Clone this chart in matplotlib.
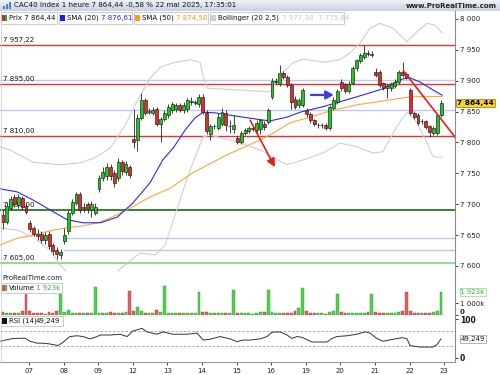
import numpy as np
import matplotlib
matplotlib.use("Agg")
import matplotlib.pyplot as plt
from matplotlib.patches import Rectangle
from matplotlib.lines import Line2D
import matplotlib.transforms as mtransforms

# ---- candle data (hourly, 06 -> 22 mai) ----
opens = [7683, 7671, 7694, 7712, 7698, 7710, 7697,
         7670, 7662, 7652, 7652, 7642, 7652, 7634, 7626, 7617,
         7640, 7656, 7686, 7702, 7716, 7694, 7700, 7690, 7686,
         7724, 7742, 7745, 7760, 7750, 7742, 7768, 7752, 7760,
         7805, 7804, 7840, 7868, 7850, 7848, 7855, 7830, 7838,
         7844, 7852, 7855, 7860, 7852, 7854, 7866, 7864, 7862,
         7874, 7848, 7814, 7826, 7823, 7830, 7848, 7826, 7822,
         7807, 7801, 7815, 7818, 7822, 7820, 7822, 7830, 7833,
         7874, 7898, 7895, 7912, 7906, 7893, 7870, 7860, 7861,
         7852, 7846, 7836, 7828, 7828, 7828, 7823, 7856, 7866,
         7898, 7894, 7884, 7896, 7920, 7932, 7938, 7945, 7942,
         7914, 7914, 7896, 7888, 7888, 7892, 7898, 7914, 7911,
         7885, 7848, 7845, 7834, 7834, 7826, 7815, 7815, 7845]
closes = [7671, 7697, 7708, 7700, 7712, 7695, 7688,
          7660, 7652, 7648, 7642, 7650, 7632, 7625, 7620, 7623,
          7650, 7686, 7704, 7716, 7690, 7696, 7692, 7700, 7696,
          7742, 7752, 7760, 7745, 7735, 7768, 7754, 7765, 7748,
          7800, 7840, 7868, 7848, 7851, 7853, 7830, 7838, 7848,
          7858, 7862, 7860, 7852, 7860, 7868, 7867, 7865, 7874,
          7850, 7818, 7826, 7827, 7841, 7849, 7828, 7827, 7828,
          7801, 7815, 7820, 7824, 7822, 7832, 7836, 7825, 7853,
          7900, 7899, 7913, 7906, 7893, 7866, 7858, 7868, 7885,
          7846, 7836, 7830, 7828, 7828, 7823, 7858, 7869, 7883,
          7888, 7884, 7895, 7920, 7933, 7942, 7945, 7944, 7944,
          7910, 7893, 7888, 7892, 7894, 7898, 7914, 7909, 7905,
          7848, 7842, 7832, 7834, 7825, 7817, 7823, 7845, 7864.44]
highs = [7690, 7704, 7714, 7716, 7716, 7714, 7702,
         7675, 7665, 7660, 7656, 7655, 7656, 7638, 7630, 7628,
         7662, 7690, 7708, 7720, 7720, 7702, 7704, 7706, 7702,
         7748, 7760, 7766, 7765, 7756, 7775, 7772, 7770, 7764,
         7855, 7846, 7880, 7872, 7856, 7858, 7858, 7842, 7852,
         7862, 7866, 7864, 7864, 7866, 7872, 7874, 7868, 7878,
         7878, 7852, 7830, 7830, 7848, 7856, 7852, 7836, 7845,
         7810, 7818, 7824, 7827, 7826, 7836, 7838, 7834, 7856,
         7904, 7904, 7925, 7916, 7910, 7896, 7875, 7872, 7889,
         7856, 7849, 7838, 7832, 7831, 7831, 7860, 7873, 7886,
         7902, 7897, 7900, 7924, 7936, 7945, 7958, 7950, 7948,
         7920, 7918, 7898, 7895, 7898, 7902, 7918, 7930, 7914,
         7889, 7851, 7848, 7838, 7837, 7828, 7826, 7848, 7868]
lows = [7660, 7668, 7690, 7695, 7694, 7690, 7684,
        7655, 7648, 7642, 7638, 7636, 7628, 7618, 7612, 7612,
        7635, 7652, 7682, 7698, 7686, 7688, 7686, 7680, 7682,
        7720, 7738, 7740, 7740, 7728, 7738, 7748, 7748, 7742,
        7791, 7786, 7836, 7844, 7846, 7844, 7826, 7800, 7834,
        7840, 7848, 7850, 7849, 7848, 7850, 7860, 7860, 7858,
        7846, 7814, 7804, 7822, 7820, 7826, 7818, 7816, 7815,
        7797, 7798, 7812, 7815, 7818, 7816, 7814, 7820, 7830,
        7870, 7894, 7892, 7902, 7890, 7854, 7854, 7856, 7858,
        7842, 7832, 7826, 7824, 7824, 7820, 7820, 7852, 7862,
        7884, 7880, 7880, 7893, 7916, 7928, 7935, 7940, 7938,
        7906, 7890, 7885, 7872, 7884, 7888, 7895, 7906, 7902,
        7845, 7838, 7828, 7830, 7822, 7809, 7812, 7812, 7842]
volumes = [250, 200, 180, 200, 180, 330, 1750,
           300, 200, 180, 150, 120, 250, 200, 300, 1800,
           250, 450, 200, 150, 180, 150, 150, 200, 2330,
           200, 180, 200, 250, 200, 180, 150, 280, 2000,
           300, 670, 350, 200, 180, 200, 420, 250, 2400,
           200, 180, 150, 180, 150, 200, 150, 180, 1900,
           250, 280, 200, 150, 180, 200, 200, 150, 2080,
           200, 180, 150, 150, 120, 180, 270, 250, 2080,
           250, 180, 200, 150, 180, 200, 330, 560, 2250,
           300, 200, 180, 150, 150, 120, 250, 300, 1750,
           250, 180, 150, 180, 150, 180, 200, 250, 1780,
           250, 200, 180, 150, 180, 200, 280, 350, 1940,
           350, 200, 180, 150, 150, 180, 250, 330, 1923]

day_labels = ['07', '08', '09', '12', '13', '14', '15', '16', '19', '20', '21', '22', '23']
day_first = [7, 16, 25, 34, 43, 52, 61, 70, 79, 88, 97, 106, 115]

# indicator lines (candle index, value)
sma20_x = [-0.8, 3.7, 7.8, 12.2, 16.7, 20.8, 25.3, 29.7, 33.8, 38.3, 41.6, 44.3, 47.4, 50.0, 52.1,
           55.2, 58.3, 62.5, 66.9, 69.5, 73.9, 77.3, 83.3, 87.7, 92.1, 96.3, 98.9, 103.3, 105.4,
           108.5, 111.9, 114.3]
sma20_y = [7725, 7720, 7707, 7691, 7675, 7670, 7670, 7679, 7702, 7735, 7772, 7791, 7820, 7840, 7849,
           7848, 7845, 7841, 7837, 7835, 7841, 7849, 7858, 7866, 7874, 7882, 7887, 7901, 7906,
           7898, 7885, 7876.61]
sma50_x = [-0.8, 3.7, 7.8, 12.2, 16.7, 20.8, 25.3, 29.7, 33.8, 38.3, 43.5, 49.4, 58.3, 66.9, 70.8,
           74.7, 79.9, 85.1, 92.1, 100.7, 105.9, 114.3]
sma50_y = [7634, 7645, 7650, 7657, 7662, 7665, 7671, 7683, 7696, 7712, 7726, 7751, 7780, 7804, 7817,
           7832, 7841, 7851, 7861, 7869, 7874, 7874.58]
bb_up_x = [-0.8, 1.8, 7.8, 14.8, 20.0, 23.9, 27.9, 31.8, 34.4, 38.3, 40.9, 44.3, 48.7, 51.3, 52.1,
           53.1, 61.7, 69.5, 72.1, 75.5, 78.1, 83.3, 87.7, 90.3, 92.9, 95.5, 98.1, 101.5, 105.1,
           107.7, 110.4, 112.4, 114.3]
bb_up_y = [7793, 7788, 7768, 7764, 7767, 7775, 7791, 7828, 7861, 7904, 7922, 7929, 7934, 7930, 7906,
           7888, 7885, 7882, 7909, 7929, 7935, 7930, 7934, 7945, 7961, 7985, 7993, 7985, 7963,
           7979, 7993, 7990, 7977.38]
bb_lo_x = [-0.8, 3.7, 7.8, 12.2, 14.8, 17.4, 22.7, 27.9, 31.8, 35.7, 39.6, 42.2, 44.8, 48.7, 52.1,
           53.9, 60.9, 66.9, 71.3, 73.9, 77.3, 83.3, 87.7, 92.1, 96.3, 98.9, 101.5, 104.1, 105.4,
           107.7, 110.4, 111.9, 114.3]
bb_lo_y = [7662, 7658, 7647, 7626, 7602, 7586, 7577, 7582, 7602, 7621, 7618, 7634, 7683, 7756, 7809,
           7812, 7801, 7788, 7772, 7764, 7770, 7783, 7799, 7793, 7783, 7785, 7815, 7841, 7849,
           7832, 7799, 7777, 7775.84]
rsi_x = [-0.8, 2.6, 5.7, 7.0, 8.9, 10.4, 12.2, 14.3, 15.6, 17.4, 19.3, 20.8, 22.7, 24.5, 25.3, 27.9,
         30.5, 32.3, 33.8, 36.2, 37.5, 40.1, 41.6, 44.2, 47.9, 50.5, 52.1, 53.9, 56.5, 59.1, 60.9,
         62.5, 64.3, 66.9, 68.7, 70.0, 72.1, 73.9, 75.2, 76.5, 77.8, 80.4, 84.3, 85.6, 86.9, 89.5,
         92.1, 94.2, 95.5, 97.3, 98.9, 101.5, 103.8, 105.1, 105.9, 108.5, 111.9, 112.9, 114.0]
rsi_y = [43, 50, 51, 43, 38, 38, 36, 32, 40, 55, 57, 55, 49, 55, 59, 59,
         61, 55, 69, 76, 67, 61, 67, 61, 61, 64, 46, 48, 55, 49, 42,
         46, 46, 49, 55, 66, 67, 59, 50, 55, 53, 41, 41, 50, 55, 57,
         61, 67, 64, 50, 43, 48, 52, 50, 32, 28, 28, 34, 49.249]

# horizontal levels drawn on the chart
red_levels = [7957.22, 7895.00, 7810.00]
green_level = 7690.00
light_green_level = 7605.00
blue_full_levels = [7901, 7853]
blue_part_levels = [7645, 7626]

# drawn arrows / trend line (candle index, price)
red_arrow = [(64.0, 7840), (71.1, 7756)]
blue_arrow = [(79.4, 7877), (86.8, 7877)]
trend_line = [(104.2, 7916), (118.0, 7806)]

# ---------------------------------------------------------------
W, H = 500, 375
fig = plt.figure(figsize=(5, 3.75), dpi=100)
fig.patch.set_facecolor('white')


def box(x0, y0, x1, y1):
    return [x0 / W, 1 - y1 / H, (x1 - x0) / W, (y1 - y0) / H]


def ftext(x, y, s, **kw):
    return fig.text(x / W, 1 - y / H, s, **kw)


def frect(x0, y0, x1, y1, **kw):
    fig.add_artist(Rectangle((x0 / W, 1 - y1 / H), (x1 - x0) / W, (y1 - y0) / H,
                             transform=fig.transFigure, **kw))


FS = 5
XMIN, XMAX = -0.77, 117.63
n = len(opens)
x = np.arange(n)
o = np.array(opens, float)
c = np.array(closes, float)
up = c >= o
GREEN, RED = '#1fc81f', '#e42a2a'

# ---- main price panel ----
ax = fig.add_axes(box(0, 12, 455, 271))
ax.set_xlim(XMIN, XMAX)
ax.set_ylim(7591.9, 8011.3)

for lv in blue_full_levels:
    ax.axhline(lv, color='#b9c9f2', lw=1.0, zorder=1)
for lv in blue_part_levels:
    ax.hlines(lv, 15.5, XMAX, color='#b9c9f2', lw=1.0, zorder=1)
for lv in red_levels:
    ax.axhline(lv, color='#e63232', lw=1.0, zorder=1)
ax.axhline(green_level, color='#237a23', lw=1.3, zorder=1)
ax.axhline(light_green_level, color='#9ad89a', lw=1.6, zorder=1)

lab_tr = mtransforms.blended_transform_factory(ax.transAxes, ax.transData)
for lv in red_levels + [green_level, light_green_level]:
    ax.text(0.006, lv + 3.5, f"{lv:,.2f}".replace(',', ' ').replace('.', ','),
            transform=lab_tr, fontsize=FS, color='#111', va='bottom', zorder=1.5)

ax.plot(bb_up_x, bb_up_y, color='#cfcfcf', lw=0.8, zorder=2)
ax.plot(bb_lo_x, bb_lo_y, color='#cfcfcf', lw=0.8, zorder=2)
ax.plot(sma50_x, sma50_y, color='#ffa53a', lw=0.8, zorder=2)
ax.plot(sma20_x, sma20_y, color='#2b2be6', lw=0.8, zorder=2)

ax.vlines(x, lows, highs, color='#222222', lw=0.6, zorder=3)
body_bot = np.minimum(o, c)
body_h = np.maximum(np.abs(c - o), 0.9)
body_col = [GREEN if u else RED for u in up]
ax.bar(x, body_h, bottom=body_bot, width=0.76, color=body_col,
       edgecolor='#1a1a1a', linewidth=0.45, zorder=4)

ax.annotate('', xy=red_arrow[1], xytext=red_arrow[0],
            arrowprops=dict(arrowstyle='-|>,head_length=0.5,head_width=0.25',
                            color='#e61e1e', lw=1.2), zorder=5)
ax.annotate('', xy=blue_arrow[1], xytext=blue_arrow[0],
            arrowprops=dict(arrowstyle='-|>,head_length=0.45,head_width=0.25',
                            color='#3c3ce0', lw=1.6), zorder=5)
ax.plot([p[0] for p in trend_line], [p[1] for p in trend_line], color='#e61e1e', lw=1.2, zorder=5)

yt = list(range(7600, 8001, 50))
ax.set_yticks(yt)
ax.set_yticklabels([f"{v:,}".replace(',', ' ') for v in yt])
ax.yaxis.tick_right()
ax.tick_params(axis='y', labelsize=FS, length=2, pad=1.5, colors='#222', width=0.6)
ax.set_xticks([])
for s in ['top', 'bottom', 'left', 'right']:
    ax.spines[s].set_visible(False)

ax.text(1.005, closes[-1], "7 864,44", transform=lab_tr, fontsize=FS + 0.3,
        fontweight='bold', va='center', ha='left', zorder=10,
        bbox=dict(boxstyle='square,pad=0.15', fc='#ffd21e', ec='#8a7a00', lw=0.5))

# ---- volume panel ----
vax = fig.add_axes(box(0, 282, 455, 315))
vax.set_xlim(XMIN, XMAX)
vax.set_ylim(0, 2750)
vcol = ['#52d052' if u else '#e06262' for u in up]
vedge = ['#2a9a2a' if u else '#b03a3a' for u in up]
vax.bar(x, volumes, width=0.74, color=vcol, edgecolor=vedge, linewidth=0.3)
vax.set_yticks([0, 1000])
vax.set_yticklabels(['0', '1 000k'])
vax.yaxis.tick_right()
vax.tick_params(axis='y', labelsize=FS, length=2, pad=1.5, colors='#222', width=0.6)
vax.get_yticklabels()[0].set_va('bottom')
vax.get_yticklabels()[0].set_fontweight('bold')
vax.set_xticks([])
for s in ['top', 'left', 'right']:
    vax.spines[s].set_visible(False)
vax.spines['bottom'].set_color('#9a9a9a')
vax.spines['bottom'].set_linewidth(0.8)
vtr = mtransforms.blended_transform_factory(vax.transAxes, vax.transData)
vax.text(1.012, volumes[-1], "1 923k", transform=vtr, fontsize=FS, color='#2bb82b',
         va='center', ha='left', bbox=dict(boxstyle='square,pad=0.12', fc='white', ec='#8fd08f', lw=0.5))

# ---- RSI panel ----
rax = fig.add_axes(box(0, 315, 455, 362))
rax.set_xlim(XMIN, XMAX)
rax.set_ylim(-10.3, 110.3)
rax.axhline(70, color='#a0a0a0', lw=0.6, ls=(0, (3, 2)))
rax.axhline(30, color='#a0a0a0', lw=0.6, ls=(0, (3, 2)))
rax.plot(rsi_x, rsi_y, color='#333333', lw=0.7)
rax.set_yticks([0, 100])
rax.set_yticklabels(['0', '100'])
rax.yaxis.tick_right()
rax.tick_params(axis='y', labelsize=FS + 0.5, length=2, pad=1.5, colors='#111', width=0.6)
for lbl in rax.get_yticklabels():
    lbl.set_fontweight('bold')
rax.set_xticks([d - 0.2 for d in day_first])
rax.set_xticklabels(day_labels)
rax.tick_params(axis='x', labelsize=FS, length=2, pad=2, colors='#222', width=0.6)
for s in ['top', 'left', 'right']:
    rax.spines[s].set_visible(False)
rax.spines['bottom'].set_color('#9a9a9a')
rtr = mtransforms.blended_transform_factory(rax.transAxes, rax.transData)
rax.text(1.012, rsi_y[-1], "49,249", transform=rtr, fontsize=FS, color='#111',
         va='center', ha='left', bbox=dict(boxstyle='square,pad=0.12', fc='white', ec='#999', lw=0.5))

# continuous right-hand price axis line
fig.add_artist(Line2D([455 / W, 455 / W], [1 - 11 / H, 1 - 362 / H],
                      transform=fig.transFigure, color='#8c8c8c', lw=0.8))
fig.add_artist(Line2D([0.5 / W, 0.5 / W], [1 - 11 / H, 1 - 362 / H],
                      transform=fig.transFigure, color='#d0d0d0', lw=0.6))

# ---- header bar and legend boxes ----
hax = fig.add_axes(box(0, 0, 500, 11))
grad = np.linspace(0, 1, 20).reshape(-1, 1)
hax.imshow(grad, aspect='auto', cmap=matplotlib.colors.LinearSegmentedColormap.from_list(
    'h', ['#eef3f8', '#c6d3df']), extent=[0, 1, 0, 1])
hax.axis('off')
ftext(14, 5.5, "CAC40 Index 1 heure 7 864,44 -0,58 % 22 mai 2025, 17:35:01",
      fontsize=FS + 0.1, va='center', ha='left', color='#111')
ftext(497, 5.5, "www.ProRealTime.com", fontsize=FS, va='center', ha='right',
      color='#222', fontweight='bold')
for k, hh in enumerate([3, 5, 7]):
    frect(3 + k * 3, 9 - hh, 5 + k * 3, 9, fc='#4a7fd0', ec='none')

legend_boxes = [(0, 57), (58, 132), (133, 208), (209, 344)]
for x0, x1 in legend_boxes:
    frect(x0 + 0.5, 12, x1, 23.5, fc='white', ec='#c4c4c4', lw=0.6)
frect(2, 14.5, 4.5, 21, fc='#e02020', ec='none')
frect(4.5, 14.5, 7, 21, fc='#20b020', ec='none')
ftext(9, 18, "Prix 7 864,44", fontsize=FS, va='center', color='#111')
frect(60, 14.5, 65, 21, fc='#1a1aff', ec='none')
ftext(67, 18, "SMA (20)", fontsize=FS, va='center', color='#111')
ftext(101, 18, "7 876,61", fontsize=FS, va='center', color='#2222ee')
frect(135, 14.5, 140, 21, fc='#ff9a1a', ec='none')
ftext(142, 18, "SMA (50)", fontsize=FS, va='center', color='#111')
ftext(176, 18, "7 874,58", fontsize=FS, va='center', color='#ff9a1a')
frect(211, 14.5, 216, 21, fc='#cfcfcf', ec='none')
ftext(218, 18, "Bollinger (20 2,5)", fontsize=FS, va='center', color='#111')
ftext(282, 18, "7 977,38  7 775,84", fontsize=FS, va='center', color='#c8c8c8')

# ---- sub panel captions ----
ftext(2, 278, "ProRealTime.com", fontsize=FS, va='center', color='#222')
frect(0.5, 283, 62, 292.5, fc='white', ec='#c4c4c4', lw=0.6)
frect(2, 284.5, 4.5, 291, fc='#e05050', ec='none')
frect(4.5, 284.5, 7, 291, fc='#40c040', ec='none')
ftext(9, 288, "Volume", fontsize=FS, va='center', color='#111')
ftext(36, 288, "1 923k", fontsize=FS, va='center', color='#2bb82b')
frect(0.5, 316, 63, 325.5, fc='white', ec='#c4c4c4', lw=0.6)
frect(2, 317.5, 7, 324, fc='#111111', ec='none')
ftext(9, 321, "RSI (14)", fontsize=FS, va='center', color='#111')
ftext(36, 321, "49,249", fontsize=FS, va='center', color='#111')

fig.savefig("out.png", dpi=100)
